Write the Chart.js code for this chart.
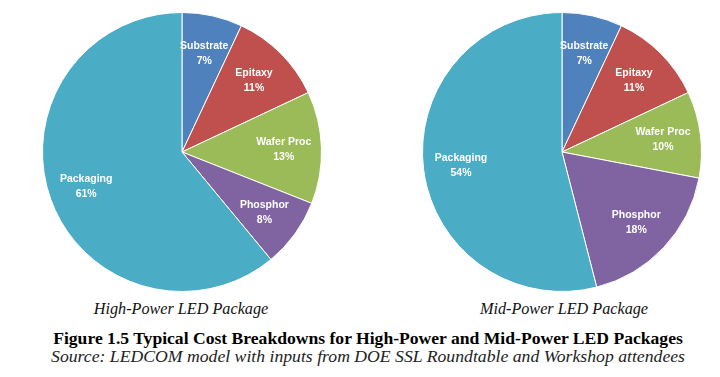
<!DOCTYPE html>
<html>
<head>
<meta charset="utf-8">
<script src="https://cdn.jsdelivr.net/npm/chart.js@4"></script>
<style>
  html, body { margin: 0; padding: 0; background: #fff; }
  body { width: 720px; height: 377px; position: relative; overflow: hidden; }
  .pie { position: absolute; top: 12px; width: 280px; height: 280px; }
  .cap { position: absolute; top: 300px; width: 260px; text-align: center; line-height: 18px;
         font-family: 'Liberation Serif', 'DejaVu Serif', serif; font-style: italic; font-size: 16.2px; color: #111; }
  .fig { position: absolute; left: 0; width: 736px; text-align: center; line-height: 20px; white-space: nowrap;
         font-family: 'Liberation Serif', 'DejaVu Serif', serif; color: #000; }
  #figTitle { top: 328px; font-weight: bold; font-size: 17.6px; }
  #figSource { top: 346px; font-style: italic; font-size: 17.7px; color: #222; }
</style>
</head>
<body>
<div class="pie" style="left:42px"><canvas id="highChart" width="280" height="280"></canvas></div>
<div class="pie" style="left:422px"><canvas id="midChart" width="280" height="280"></canvas></div>
<div class="cap" style="left:51px">High-Power LED Package</div>
<div class="cap" style="left:434px">Mid-Power LED Package</div>
<div class="fig" id="figTitle">Figure 1.5 Typical Cost Breakdowns for High-Power and Mid-Power LED Packages</div>
<div class="fig" id="figSource">Source: LEDCOM model with inputs from DOE SSL Roundtable and Workshop attendees</div>
<script>
	'use strict';

	var categories = [ 'Substrate', 'Epitaxy', 'Wafer Proc', 'Phosphor', 'Packaging' ];
	var high_power = [ 7, 11, 13, 8, 61 ];
	var mid_power = [ 7, 11, 10, 18, 54 ];
	var slice_colors = [ '#4f81bd', '#c0504d', '#9bbb59', '#8064a2', '#4bacc6' ];

	// white name + percent drawn inside each slice
	var sliceLabels = {
		id: 'sliceLabels',
		afterDatasetsDraw: function( chart ) {
			var ctx = chart.ctx;
			var meta = chart.getDatasetMeta( 0 );
			var values = chart.data.datasets[ 0 ].data;
			var total = values.reduce( function( a, b ) { return a + b; }, 0 );
			ctx.save();
			ctx.fillStyle = '#ffffff';
			ctx.textAlign = 'center';
			ctx.textBaseline = 'middle';
			ctx.font = 'bold 10.5px "Liberation Sans", Arial, sans-serif';
			meta.data.forEach( function( arc, i ) {
				var mid = ( arc.startAngle + arc.endAngle ) / 2;
				var r = arc.outerRadius * 0.73;
				var x = arc.x + Math.cos( mid ) * r;
				var y = arc.y + Math.sin( mid ) * r;
				var pct = Math.round( values[ i ] / total * 100 ) + '%';
				ctx.fillText( chart.data.labels[ i ], x, y - 7 );
				ctx.fillText( pct, x, y + 8 );
			} );
			ctx.restore();
		}
	};

	function makePie( id, values ) {
		return new Chart( document.getElementById( id ), {
			type: 'pie',
			data: {
				labels: categories,
				datasets: [ {
					data: values,
					backgroundColor: slice_colors,
					borderColor: '#ffffff',
					borderWidth: 1,
				} ]
			},
			options: {
				responsive: false,
				animation: false,
				plugins: {
					legend: { display: false },
					tooltip: { enabled: false },
				},
			},
			plugins: [ sliceLabels ]
		} );
	}

	makePie( 'highChart', high_power );
	makePie( 'midChart', mid_power );
</script>
</body>
</html>
